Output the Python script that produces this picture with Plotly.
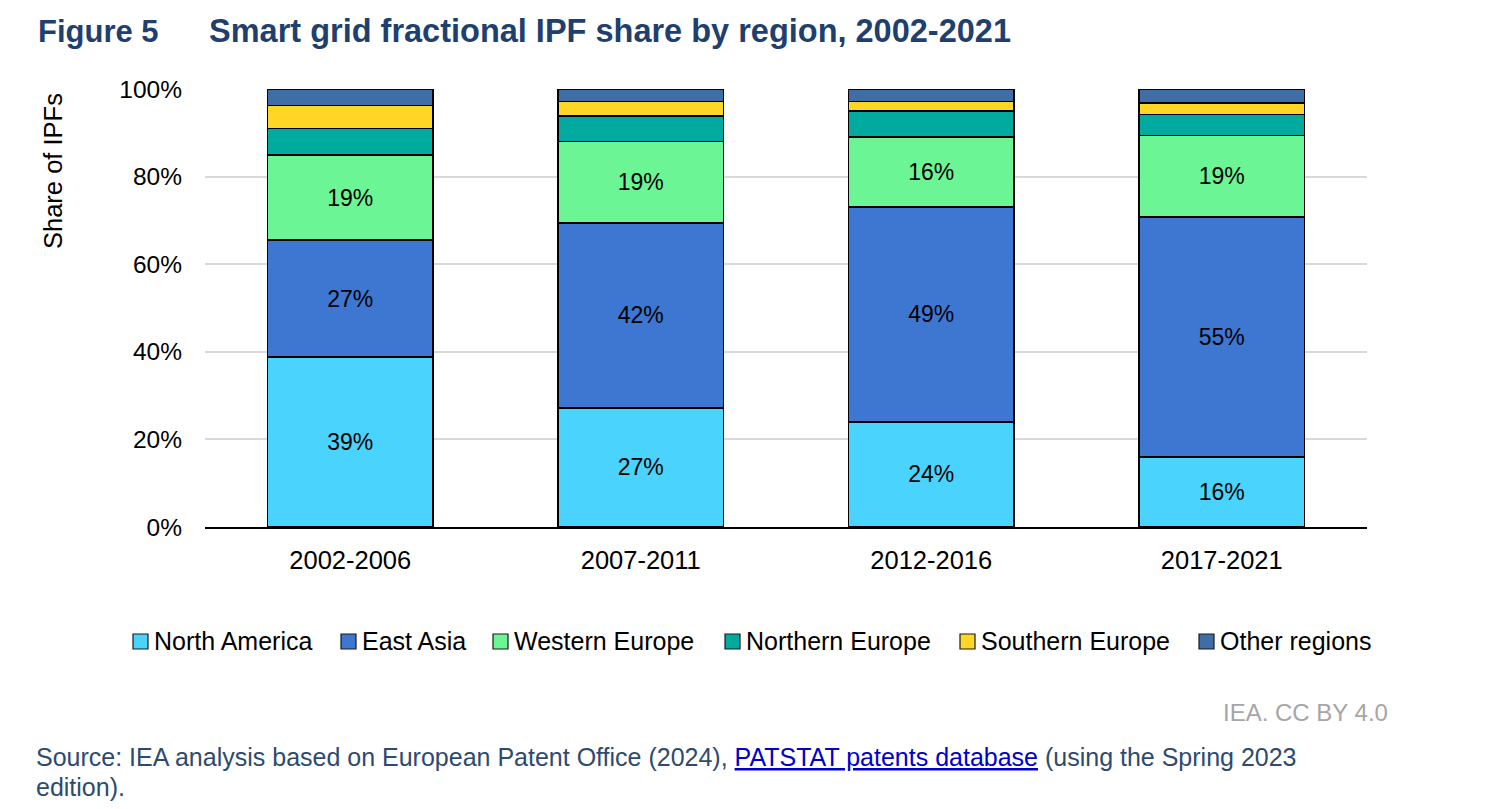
import plotly.graph_objects as go

categories = ["2002-2006", "2007-2011", "2012-2016", "2017-2021"]
north_america = [38.8, 27.2, 24.0, 16.0]
east_asia = [26.7, 42.2, 49.1, 54.8]
western_europe = [19.4, 18.6, 15.9, 18.6]
northern_europe = [6.1, 5.8, 6.0, 4.8]
southern_europe = [5.2, 3.4, 2.2, 2.6]
other_regions = [3.8, 2.8, 2.8, 3.2]

y_tick_values = [0, 20, 40, 60, 80, 100]
y_tick_labels = ["0%", "20%", "40%", "60%", "80%", "100%"]

series = [
    ("North America", north_america, "#4AD3FD", True),
    ("East Asia", east_asia, "#3E77D2", True),
    ("Western Europe", western_europe, "#6CF594", True),
    ("Northern Europe", northern_europe, "#00AA9E", False),
    ("Southern Europe", southern_europe, "#FED625", False),
    ("Other regions", other_regions, "#3F6EA6", False),
]

# legend item text start positions (reference pixels)
legend_text_x = [152, 360, 512, 744, 979, 1218]

FONT = "Liberation Sans, Arial, sans-serif"
OFF = 8  # page body margin
W, H = 1500 - OFF, 809 - OFF
L, T, PW, PH = 205 - OFF, 89 - OFF, 1162, 438


def dx(px):
    return (px - 205) / PW


def dy(py):
    return (527 - py) / PH


fig = go.Figure()
for name, vals, color, labelled in series:
    fig.add_trace(go.Bar(
        name=name, x=categories, y=vals,
        marker=dict(color=color, line=dict(color="#000000", width=1.5)),
        text=[f"{round(v):d}%" for v in vals] if labelled else None,
        textposition="inside" if labelled else "none",
        insidetextanchor="middle",
        textangle=0,
        constraintext="none",
        textfont=dict(family=FONT, size=23, color="#000000"),
        hoverinfo="skip",
        showlegend=False,
    ))

fig.update_layout(
    barmode="stack",
    bargap=0.43,
    width=W, height=H,
    margin=dict(l=L, r=W - L - PW, t=T, b=H - T - PH, autoexpand=False),
    paper_bgcolor="white", plot_bgcolor="white",
    font=dict(family=FONT, size=24, color="#000000"),
    showlegend=False,
    xaxis=dict(
        showgrid=False, showline=True, linecolor="#000000", linewidth=1.5,
        ticks="", tickfont=dict(size=25.5), ticklabelstandoff=10,
    ),
    yaxis=dict(
        range=[0, 100], tickmode="array", tickvals=y_tick_values, ticktext=y_tick_labels,
        showgrid=True, gridcolor="#D9D9D9", gridwidth=1.5,
        zeroline=False, showline=False, ticks="",
        tickfont=dict(size=24.5), ticklabelstandoff=22,
    ),
)

# manual legend (square key + label), laid out as in the reference
for (name, vals, color, labelled), tx in zip(series, legend_text_x):
    fig.add_shape(
        type="rect", xref="x domain", yref="y domain",
        x0=dx(tx - 19), x1=dx(tx - 4), y0=dy(649), y1=dy(634),
        fillcolor=color, line=dict(color="#1A1A1A", width=1.2),
    )
    fig.add_annotation(
        text=name, xref="x domain", yref="y domain", showarrow=False,
        x=dx(tx), y=dy(641), xanchor="left", yanchor="middle",
        font=dict(family=FONT, size=25, color="#000000"),
    )

annotations = [
    dict(text="<b>Figure 5</b>", x=36, y=31, font=dict(size=31, color="#1F3F6F")),
    dict(text="<b>Smart grid fractional IPF share by region, 2002-2021</b>", x=207, y=31,
         font=dict(size=32.5, color="#1F3F6F")),
    dict(text="IEA. CC BY 4.0", x=1390, y=712, xanchor="right",
         font=dict(size=24, color="#A6A6A6")),
    dict(text="Source: IEA analysis based on European Patent Office (2024), "
              "<span style='color:#0000CC;text-decoration:underline'>PATSTAT patents database</span>"
              " (using the Spring 2023", x=34, y=757, font=dict(size=25, color="#2E4A6E")),
    dict(text="edition).", x=34, y=787, font=dict(size=25, color="#2E4A6E")),
]
for a in annotations:
    fig.add_annotation(
        text=a["text"], xref="x domain", yref="y domain",
        showarrow=False,
        x=dx(a["x"]), y=dy(a["y"]),
        xanchor=a.get("xanchor", "left"), yanchor="middle",
        font=dict(family=FONT, **a["font"]),
    )

fig.add_annotation(
    text="Share of IPFs", textangle=-90, showarrow=False,
    xref="x domain", yref="y domain",
    x=dx(53), y=dy(171), xanchor="center", yanchor="middle",
    font=dict(family=FONT, size=25.5, color="#000000"),
)

fig.write_html("out.html")
